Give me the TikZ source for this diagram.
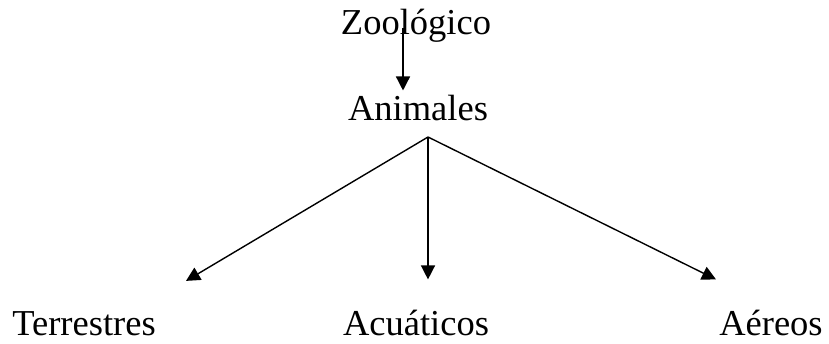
\documentclass[tikz,border=0pt]{standalone}
\usepackage{fontspec}
\setmainfont{Liberation Serif}
\usetikzlibrary{arrows.meta}

\tikzset{
    word/.style={inner sep=0pt,anchor=base,font=\fontsize{36.5}{44}\selectfont},
    arr/.style={-{Triangle[length=14pt,width=14pt]},line width=1.4pt}
}

\begin{document}
\begin{tikzpicture}[x=1pt,y=1pt]
    \useasboundingbox (0,0) rectangle (829,343);
    \node[word] (zoo) at (416,308) {Zoológico};
    \node[word] (ani) at (418,222) {Animales};
    \node[word] (ter) at (84,8) {Terrestres};
    \node[word] (acu) at (416,8) {Acuáticos};
    \node[word] (aer) at (771,8) {Aéreos};
    \coordinate (split) at ([xshift=10pt,yshift=-16pt]ani.base);
    %\draw[arr] (zoo) -- (ani);
    \draw[arr] ([xshift=-13pt,yshift=7pt]zoo.base) -- ([xshift=-15pt,yshift=5pt]ani.north);
    \draw[arr] (split) -- ([xshift=102pt,yshift=30pt]ter.north);
    \draw[arr] (split) -- ([xshift=12pt,yshift=30pt]acu.north);
    \draw[arr] (split) -- ([xshift=-55pt,yshift=30pt]aer.north);
\end{tikzpicture}
\end{document}
